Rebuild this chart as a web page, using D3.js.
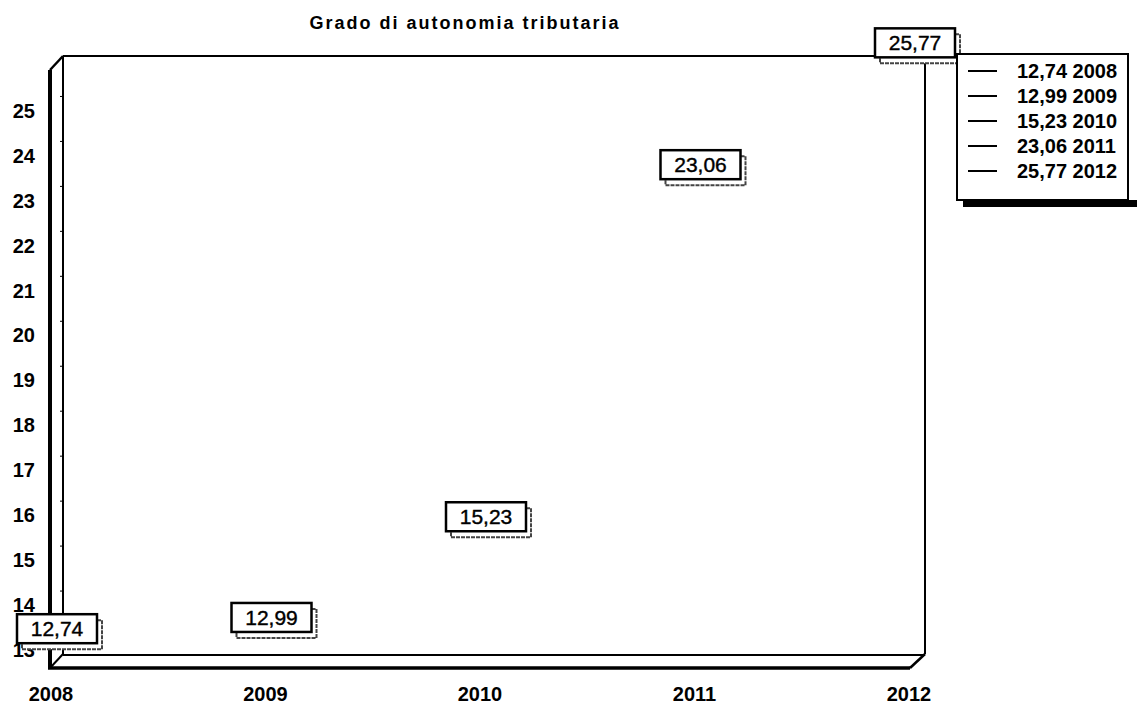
<!DOCTYPE html>
<html>
<head>
<meta charset="utf-8">
<script src="https://cdn.jsdelivr.net/npm/d3@7"></script>
<style>
  body { margin: 0; background: #fff; }
  text { font-family: "Liberation Sans", Arial, sans-serif; fill: #000; }
</style>
</head>
<body>
<script>
var width = 1137, height = 705;

// data
var years = [2008, 2009, 2010, 2011, 2012];
var values = [12.74, 12.99, 15.23, 23.06, 25.77];
var valueLabels = ["12,74", "12,99", "15,23", "23,06", "25,77"];
var yTicks = [13, 14, 15, 16, 17, 18, 19, 20, 21, 22, 23, 24, 25];
var yDomain = [12.6, 25.9];
var title = "Grado di autonomia tributaria";

var svg = d3.select("body").append("svg")
    .attr("width", width)
    .attr("height", height);

// front plane scales
var x = d3.scaleLinear().domain([2008, 2012]).range([51, 909]);
var y = d3.scaleLinear().domain(yDomain).range([668, 70]);

// 3d depth
var dx = 13, dy = -14;
var left = 50, right = 912;
var yTop = y(yDomain[1]), yBottom = y(yDomain[0]);

var frame = svg.append("g").attr("fill", "none").attr("stroke", "#000");

// back wall
frame.append("line").attr("x1", left + dx).attr("y1", yTop + dy).attr("x2", 957).attr("y2", yTop + dy).attr("stroke-width", 2);
frame.append("line").attr("x1", right + dx).attr("y1", yTop + dy).attr("x2", right + dx).attr("y2", yBottom + dy).attr("stroke-width", 2);
frame.append("line").attr("x1", left + dx).attr("y1", yTop + dy).attr("x2", left + dx).attr("y2", yBottom + dy).attr("stroke-width", 2);
frame.append("line").attr("x1", left + dx).attr("y1", yBottom + dy + 1).attr("x2", right + dx).attr("y2", yBottom + dy + 1).attr("stroke-width", 2);

// left wall
frame.append("line").attr("x1", left).attr("y1", yTop).attr("x2", left + dx).attr("y2", yTop + dy).attr("stroke-width", 2.5);
frame.append("line").attr("x1", left).attr("y1", yTop).attr("x2", left).attr("y2", yBottom).attr("stroke-width", 4);

// floor
frame.append("line").attr("x1", left - 2).attr("y1", yBottom).attr("x2", right - 2).attr("y2", yBottom).attr("stroke-width", 3.5);
frame.append("line").attr("x1", right - 2).attr("y1", yBottom).attr("x2", right + dx).attr("y2", yBottom + dy).attr("stroke-width", 2.5);
frame.append("line").attr("x1", left).attr("y1", yBottom).attr("x2", left + dx).attr("y2", yBottom + dy).attr("stroke-width", 2);

// y tick labels
svg.append("g").selectAll("text")
    .data(yTicks)
    .enter().append("text")
    .attr("x", 35)
    .attr("y", function (d) { return y(d); })
    .attr("dy", "0.36em")
    .attr("text-anchor", "end")
    .style("font-size", "20px")
    .style("font-weight", "bold")
    .text(function (d) { return d; });

// small tick marks on the back edge
svg.append("g").selectAll("line")
    .data(yTicks)
    .enter().append("line")
    .attr("x1", left + dx - 3).attr("x2", left + dx + 1)
    .attr("y1", function (d) { return y(d) + dy; })
    .attr("y2", function (d) { return y(d) + dy; })
    .attr("stroke", "#000").attr("stroke-width", 1);

// x labels
svg.append("g").selectAll("text")
    .data(years)
    .enter().append("text")
    .attr("x", function (d) { return x(d); })
    .attr("y", 701)
    .attr("text-anchor", "middle")
    .style("font-size", "20px")
    .style("font-weight", "bold")
    .text(function (d) { return d; });

// value labels
var bw = 80, bh = 29;
var labels = svg.append("g").selectAll("g")
    .data(years)
    .enter().append("g")
    .attr("transform", function (d, i) {
        return "translate(" + (x(d) + 6 - bw / 2) + "," + (y(values[i]) - 33 - bh / 2) + ")";
    });

labels.append("rect")
    .attr("x", 5).attr("y", 6)
    .attr("width", bw).attr("height", bh)
    .attr("fill", "#fff")
    .attr("stroke", "#444")
    .attr("stroke-width", 2)
    .attr("stroke-dasharray", "4,1");

labels.append("rect")
    .attr("width", bw).attr("height", bh)
    .attr("fill", "#fff")
    .attr("stroke", "#000")
    .attr("stroke-width", 2.5);

labels.append("text")
    .attr("x", bw / 2)
    .attr("y", bh / 2)
    .attr("dy", "0.36em")
    .attr("text-anchor", "middle")
    .style("font-size", "21px")
    .style("stroke", "#000")
    .style("stroke-width", 0.4)
    .text(function (d, i) { return valueLabels[i]; });

// legend
var legend = svg.append("g").attr("transform", "translate(957,54)");
legend.append("rect")
    .attr("x", 6).attr("y", 146)
    .attr("width", 180).attr("height", 7)
    .attr("fill", "#000");
legend.append("rect")
    .attr("width", 171).attr("height", 146)
    .attr("fill", "#fff")
    .attr("stroke", "#000")
    .attr("stroke-width", 2);

var items = legend.selectAll("g.item")
    .data(years)
    .enter().append("g")
    .attr("class", "item")
    .attr("transform", function (d, i) { return "translate(0," + (17 + i * 25) + ")"; });

items.append("line")
    .attr("x1", 11).attr("x2", 40)
    .attr("stroke", "#000").attr("stroke-width", 2);

items.append("text")
    .attr("x", 60)
    .attr("dy", "0.36em")
    .style("font-size", "20px")
    .style("font-weight", "bold")
    .text(function (d, i) { return valueLabels[i] + " " + d; });

// title
svg.append("text")
    .attr("x", 465)
    .attr("y", 29)
    .attr("text-anchor", "middle")
    .style("font-size", "18px")
    .style("letter-spacing", "2px")
    .style("font-weight", "bold")
    .text(title);
</script>
</body>
</html>
